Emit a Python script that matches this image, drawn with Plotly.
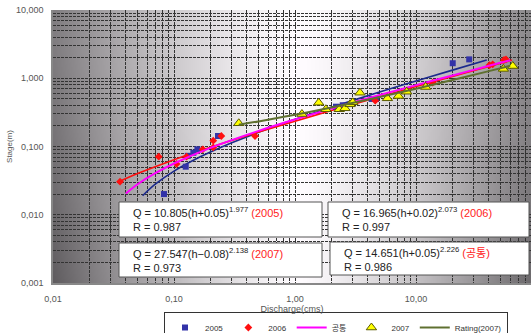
import base64, struct, zlib
import plotly.graph_objects as go

# ---------------- data ----------------
q2005 = [0.0826, 0.125, 0.130, 0.1445, 0.156, 0.231, 2.18, 2.30, 2.48, 4.30, 4.67, 20.1, 27.5]
h2005 = [0.0201, 0.0506, 0.073, 0.081, 0.091, 0.1426, 0.383, 0.372, 0.402, 0.497, 0.497, 1.66, 1.89]

q2006 = [0.0358, 0.0748, 0.105, 0.127, 0.173, 0.211, 0.211, 0.246, 0.467, 4.60, 13.7, 40.4, 43.0, 53.3, 55.4]
h2006 = [0.0305, 0.071, 0.0555, 0.071, 0.091, 0.1216, 0.097, 0.1426, 0.1426, 0.47, 0.861, 1.55, 1.60, 1.85, 1.89]

q2007 = [0.343, 1.14, 1.57, 1.80, 2.32, 2.59, 2.85, 3.00, 3.44, 5.80, 7.16, 8.38, 12.0, 52.7, 63.0]
h2007 = [0.219, 0.299, 0.438, 0.351, 0.351, 0.363, 0.415, 0.444, 0.614, 0.508, 0.55, 0.635, 0.745, 1.37, 1.51]

# rating curves
fit2005_q = [0.055, 0.07, 0.10, 0.15, 0.20, 0.30, 0.50, 1.0, 2.0, 5.0, 10.0, 20.0, 38.4]
fit2005_h = [0.019, 0.028, 0.0436, 0.065, 0.0829, 0.1132, 0.1613, 0.2501, 0.376, 0.627, 0.912, 1.315, 1.848]

fit2006_q = [0.036, 0.05, 0.10, 0.20, 0.50, 1.0, 2.0, 5.0, 10.0, 20.0, 40.0, 62.0]
fit2006_h = [0.0313, 0.0401, 0.064, 0.0974, 0.1627, 0.2352, 0.3366, 0.5347, 0.755, 1.0626, 1.4925, 1.8486]

common_q = [0.040, 0.05, 0.07, 0.10, 0.20, 0.50, 1.0, 2.0, 5.0, 10.0, 20.0, 40.0, 60.0]
common_h = [0.0205, 0.028, 0.0407, 0.0564, 0.0953, 0.1693, 0.2494, 0.3588, 0.5669, 0.7923, 1.1001, 1.5202, 1.8339]

rating2007_q = [0.343, 0.5, 1.0, 2.0, 5.0, 10.0, 20.0, 40.0, 60.0]
rating2007_h = [0.2086, 0.2333, 0.2921, 0.3733, 0.5302, 0.7025, 0.9409, 1.2706, 1.52]

x_major = [0.01, 0.1, 1, 10, 100]
x_major_text = ["0,01", "0,10", "1,00", "10,00", "100,00"]
y_major = [0.001, 0.01, 0.1, 1, 10]
y_major_text = ["0,001", "0,010", "0,100", "1,000", "10,000"]

eq_texts = [
    "Q = 10.805(h+0.05)<sup>1.977</sup> <span style='color:#ff2222'>(2005)</span><br>R = 0.987",
    "Q = 16.965(h+0.02)<sup>2.073</sup> <span style='color:#ff2222'>(2006)</span><br>R = 0.997",
    "Q = 27.547(h\u22120.08)<sup>2.138</sup> <span style='color:#ff2222'>(2007)</span><br>R = 0.973",
    "Q = 14.651(h+0.05)<sup>2.226</sup> <span style='color:#ff2222'>(공통)</span><br>R = 0.986",
]

# ---------------- background gradient image ----------------
def gradient_png(w, h):
    u0 = 0.517
    rows = []
    for j in range(h):
        v = j / (h - 1)
        row = bytearray([0])
        for i in range(w):
            u = i / (w - 1)
            d = min(abs(u - u0) / 0.5, 1.1)
            val = 255 - 120 * d ** 1.4 - 32 * v ** 1.5 * d
            val = max(0, min(255, int(val)))
            row += bytes([val, max(0, val - 3), val])
        rows.append(bytes(row))
    raw = b"".join(rows)

    def chunk(tag, data):
        c = tag + data
        return struct.pack(">I", len(data)) + c + struct.pack(">I", zlib.crc32(c) & 0xffffffff)

    png = b"\x89PNG\r\n\x1a\n"
    png += chunk(b"IHDR", struct.pack(">IIBBBBB", w, h, 8, 2, 0, 0, 0))
    png += chunk(b"IDAT", zlib.compress(raw, 9))
    png += chunk(b"IEND", b"")
    return "data:image/png;base64," + base64.b64encode(png).decode()

bg = gradient_png(240, 120)

# ---------------- ticks: every 1..9 per decade gets a grid line ----------------
def log_ticks(lo, hi, majors, texts):
    vals, txt = [], []
    d = lo
    while d <= hi:
        for k in range(1, 10):
            v = round(k * 10 ** d, 6)
            vals.append(v)
            if k == 1 and v in majors:
                txt.append(texts[majors.index(v)])
            else:
                txt.append(" ")
        d += 1
    return vals, txt

xt_vals, xt_text = log_ticks(-2, 2, x_major, x_major_text)
yt_vals, yt_text = log_ticks(-3, 1, y_major, y_major_text)

FONT = "Liberation Sans, Arial, Noto Sans CJK KR, sans-serif"

fig = go.Figure()

fig.add_trace(go.Scatter(x=fit2005_q, y=fit2005_h, mode="lines", line=dict(color="#1c2a8c", width=1.6, shape="spline"),
                         showlegend=False, hoverinfo="skip"))
fig.add_trace(go.Scatter(x=fit2006_q, y=fit2006_h, mode="lines", line=dict(color="#ff1010", width=1.6, shape="spline"),
                         showlegend=False, hoverinfo="skip"))
fig.add_trace(go.Scatter(x=q2005, y=h2005, mode="markers", name="2005",
                         marker=dict(symbol="square", size=6, color="#3333a8")))
fig.add_trace(go.Scatter(x=q2006, y=h2006, mode="markers", name="2006",
                         marker=dict(symbol="diamond", size=6, color="#ff1010")))
fig.add_trace(go.Scatter(x=common_q, y=common_h, mode="lines", name="공통",
                         line=dict(color="#ff00ff", width=2, shape="spline")))
fig.add_trace(go.Scatter(x=q2007, y=h2007, mode="markers", name="2007",
                         marker=dict(symbol="triangle-up", size=9, color="#ffff00",
                                     line=dict(color="#5a5a00", width=1))))
fig.add_trace(go.Scatter(x=rating2007_q, y=rating2007_h, mode="lines", name="Rating(2007)",
                         line=dict(color="#5f7030", width=2, shape="spline")))

# plot-area pixel helpers (plot area: x 53..531, y 10..283)
def px(xpix):
    return (xpix - 53) / 478.0

def py(ypix):
    return (283 - ypix) / 273.0

boxes = [(119, 202, 322, 237), (328, 202, 529, 237), (119, 243, 322, 277), (330, 242, 529, 275)]
shapes = []
annotations = []
for (x0, y0, x1, y1), txt in zip(boxes, eq_texts):
    shapes.append(dict(type="rect", xref="paper", yref="paper", x0=px(x0), x1=px(x1), y0=py(y1), y1=py(y0),
                       fillcolor="white", line=dict(color="#555555", width=1), layer="above"))
    annotations.append(dict(xref="paper", yref="paper", x=px(x0 + 12), y=py((y0 + y1) / 2),
                            xanchor="left", yanchor="middle", align="left", showarrow=False,
                            text=txt, font=dict(family=FONT, size=11, color="#222222")))

fig.update_layout(
    width=531, height=333,
    margin=dict(l=53, r=0, t=10, b=50, autoexpand=False),
    paper_bgcolor="white",
    plot_bgcolor="#a0a0a0",
    font=dict(family=FONT, size=9, color="#555555"),
    images=[dict(source=bg, xref="paper", yref="paper", x=0, y=1, sizex=1, sizey=1,
                 xanchor="left", yanchor="top", sizing="stretch", layer="below")],
    shapes=shapes,
    annotations=annotations,
    legend=dict(orientation="h", x=px(336), y=py(312), xanchor="center", yanchor="top",
                bgcolor="white", bordercolor="#333333", borderwidth=1,
                font=dict(family=FONT, size=8, color="#333333"), itemwidth=30,
                tracegroupgap=0),
    showlegend=True,
)

fig.update_xaxes(type="log", range=[-2, 1.95], tickmode="array", tickvals=xt_vals, ticktext=xt_text,
                 showgrid=True, gridcolor="#333333", gridwidth=1, griddash="3px,1px",
                 showline=True, linecolor="#888888", linewidth=1.5, ticks="", zeroline=False,
                 ticklabelstandoff=6, automargin=False, tickangle=0,
                 title=dict(text="Discharge(cms)", font=dict(size=9, color="#555555"), standoff=1))
fig.update_yaxes(type="log", range=[-3, 1], tickmode="array", tickvals=yt_vals, ticktext=yt_text,
                 showgrid=True, gridcolor="#333333", gridwidth=1, griddash="3px,1px",
                 showline=True, linecolor="#888888", linewidth=1.5, ticks="", zeroline=False,
                 ticklabelstandoff=6, automargin=False,
                 title=dict(text="Stage(m)", font=dict(size=8, color="#555555"), standoff=2))

fig.write_html("out.html")
